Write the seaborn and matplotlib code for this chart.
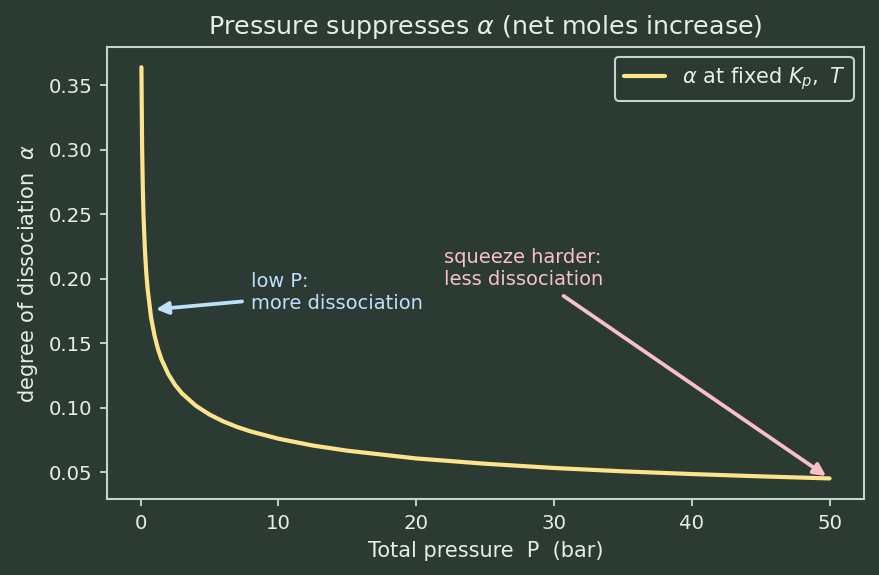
import matplotlib

matplotlib.use("Agg")
import matplotlib.pyplot as plt
import seaborn as sns

# values
pressure = [0.05, 0.1, 0.15, 0.2, 0.3, 0.4, 0.5, 0.75, 1.0, 1.25, 1.5, 2.0, 2.5,
            3.0, 4.0, 5.0, 6.0, 7.0, 8.0, 10.0, 12.5, 15.0, 20.0, 25.0, 30.0,
            35.0, 40.0, 45.0, 50.0]
alpha = [0.364, 0.302, 0.271, 0.250, 0.223, 0.205, 0.192, 0.170, 0.156, 0.1455,
         0.1376, 0.126, 0.1175, 0.111, 0.1015, 0.0946, 0.0893, 0.085, 0.0815,
         0.0759, 0.0706, 0.0666, 0.0606, 0.0565, 0.0532, 0.0506, 0.0485,
         0.0467, 0.0451]

BG = "#2b3b34"
FG = "#e6eee6"
EDGE = "#c5d5c8"
LINE = "#fde38c"
BLUE = "#bfe0fb"
PINK = "#f9bfcd"

sns.set_style(
    "ticks",
    {
        "axes.facecolor": BG,
        "figure.facecolor": BG,
        "axes.edgecolor": EDGE,
        "axes.labelcolor": FG,
        "xtick.color": EDGE,
        "ytick.color": EDGE,
        "text.color": FG,
    },
)
plt.rcParams["font.family"] = ["DejaVu Sans"]

fig, ax = plt.subplots(figsize=(880 / 150, 575 / 150), dpi=150)
fig.subplots_adjust(left=0.1216, right=0.9818, bottom=0.1322, top=0.9188)

sns.lineplot(
    x=pressure,
    y=alpha,
    ax=ax,
    color=LINE,
    linewidth=2,
    label=r"$\alpha$ at fixed $K_p,\ T$",
)

for side in ["top", "right", "left", "bottom"]:
    ax.spines[side].set_visible(True)
    ax.spines[side].set_color(EDGE)
    ax.spines[side].set_linewidth(1.0)

ax.tick_params(labelsize=9.5, labelcolor=FG, length=3.5, width=0.9)
ax.set_title(r"Pressure suppresses $\alpha$ (net moles increase)", fontsize=12.2, color=FG)
ax.set_xlabel("Total pressure  P  (bar)", fontsize=10, color=FG)
ax.set_ylabel(r"degree of dissociation  $\alpha$", fontsize=10, color=FG)

ax.annotate(
    "low P:\nmore dissociation",
    xy=(0.8, 0.176),
    xytext=(8, 0.189),
    color=BLUE,
    fontsize=9.3,
    va="center",
    ha="left",
    arrowprops=dict(arrowstyle="-|>", color=BLUE, lw=1.8, mutation_scale=12),
)
ax.annotate(
    "squeeze harder:\nless dissociation",
    xy=(pressure[-1], alpha[-1]),
    xytext=(22, 0.208),
    color=PINK,
    fontsize=9.3,
    va="center",
    ha="left",
    arrowprops=dict(arrowstyle="-|>", color=PINK, lw=1.8, mutation_scale=12),
)

leg = ax.legend(loc="upper right", fontsize=10, facecolor=BG, edgecolor=EDGE,
                framealpha=1.0, handlelength=2.0)
for t in leg.get_texts():
    t.set_color(FG)

plt.savefig("out.png", dpi=150, facecolor=BG)
